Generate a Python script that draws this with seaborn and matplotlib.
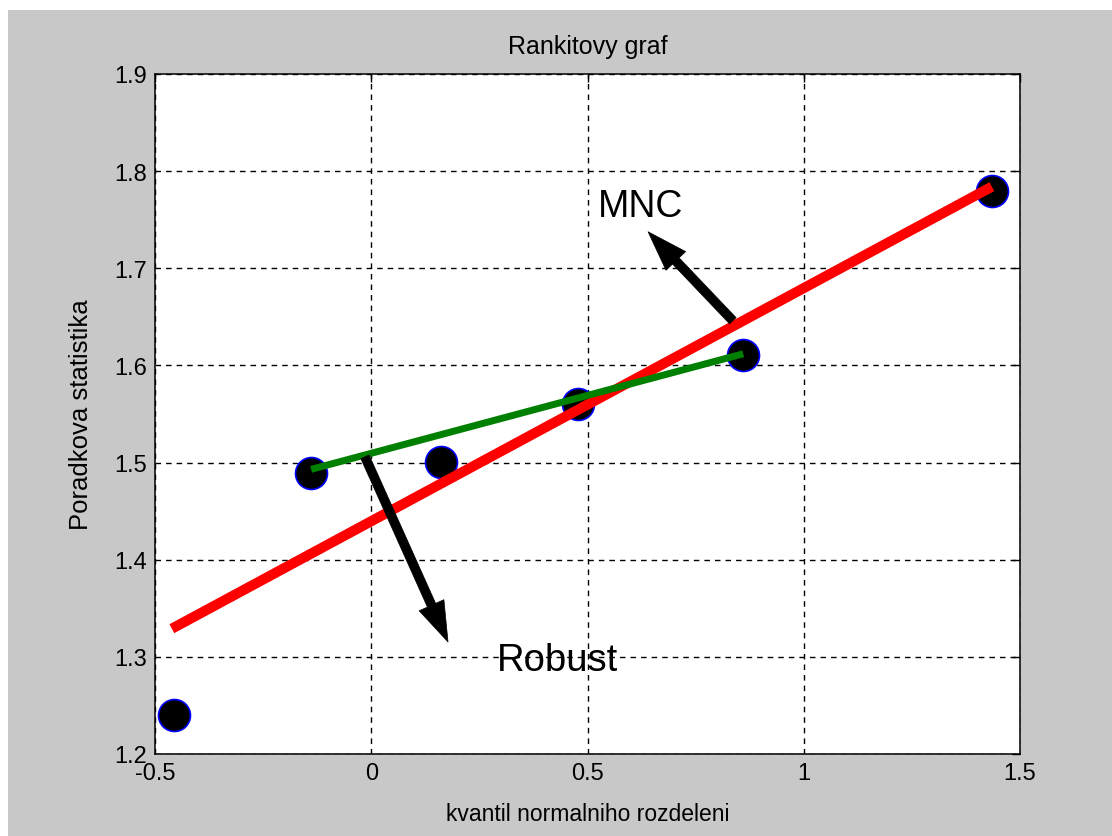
import matplotlib
matplotlib.use("Agg")
import matplotlib.pyplot as plt
import seaborn as sns
import pandas as pd
from matplotlib.patches import Rectangle

sns.set_style("white")
plt.rcParams['font.family'] = ['Liberation Sans', 'DejaVu Sans']
plt.rcParams['lines.scale_dashes'] = False
plt.rcParams['text.color'] = 'black'
plt.rcParams['axes.labelcolor'] = 'black'

# data
quantiles = [-0.456, -0.139, 0.161, 0.479, 0.860, 1.435]
order_stats = [1.240, 1.489, 1.501, 1.560, 1.611, 1.780]
mnc_x = [-0.461, 1.435]
mnc_y = [1.329, 1.784]
robust_x = [-0.139, 0.860]
robust_y = [1.493, 1.612]
mnc_arrow = [(0.836, 1.646), (0.640, 1.7376)]
robust_arrow = [(-0.0145, 1.5059), (0.1775, 1.3153)]
xticks = [-0.5, 0, 0.5, 1, 1.5]
xticklabels = ["-0.5", "0", "0.5", "1", "1.5"]
yticks = [1.2, 1.3, 1.4, 1.5, 1.6, 1.7, 1.8, 1.9]
yticklabels = ["1.2", "1.3", "1.4", "1.5", "1.6", "1.7", "1.8", "1.9"]

W, H = 1112, 837
fig = plt.figure(figsize=(W / 100, H / 100), dpi=100)
fig.patch.set_facecolor("white")
fig.patches.append(Rectangle((8 / W, 0), 1, 1 - 11 / H, transform=fig.transFigure,
                             facecolor="#c8c8c8", edgecolor="none", zorder=-10))
ax = fig.add_axes([155 / W, 1 - 755 / H, (1020 - 155) / W, (755 - 75) / H])
ax.set_facecolor("white")

pts = pd.DataFrame({"q": quantiles, "s": order_stats})
sns.scatterplot(data=pts, x="q", y="s", ax=ax, s=23 ** 2, color="black",
                edgecolor="blue", linewidth=1.2, zorder=3)
sns.lineplot(x=mnc_x, y=mnc_y, ax=ax, color="red", linewidth=7.3, zorder=4,
             solid_capstyle="butt")
sns.lineplot(x=robust_x, y=robust_y, ax=ax, color="green", linewidth=5, zorder=5,
             solid_capstyle="butt")

for (tx, ty), (hx, hy) in [mnc_arrow, robust_arrow]:
    ax.annotate("", xy=(hx, hy), xytext=(tx, ty),
                arrowprops=dict(width=6.5, headwidth=19.5, headlength=29, shrink=0,
                                facecolor="black", edgecolor="black", lw=0.5),
                zorder=6)

ax.text(0.524, 1.754, "MNC", fontsize=27, color="black", ha="left", va="baseline", zorder=7)
ax.text(0.291, 1.2865, "Robust", fontsize=27.5, color="black", ha="left", va="baseline", zorder=7)

ax.set_xlim(-0.5, 1.5)
ax.set_ylim(1.2, 1.9)
ax.set_xticks(xticks)
ax.set_xticklabels(xticklabels)
ax.set_yticks(yticks)
ax.set_yticklabels(yticklabels)
ax.grid(True, color="black", linestyle=(0, (4, 3.6)), linewidth=1.0)
ax.set_axisbelow(True)
ax.tick_params(direction="in", length=6, width=1, top=True, right=True,
               labelsize=17, colors="black", pad=6)
for sp in ax.spines.values():
    sp.set_visible(True)
    sp.set_color("black")
    sp.set_linewidth(1.1)

ax.set_title("Rankitovy graf", fontsize=18, pad=15, color="black")
ax.set_xlabel("kvantil normalniho rozdeleni", fontsize=16.5, labelpad=13, color="black")
ax.set_ylabel("Poradkova statistika", fontsize=18.5, labelpad=15, color="black")

fig.savefig("out.png", dpi=100, facecolor=fig.get_facecolor())
